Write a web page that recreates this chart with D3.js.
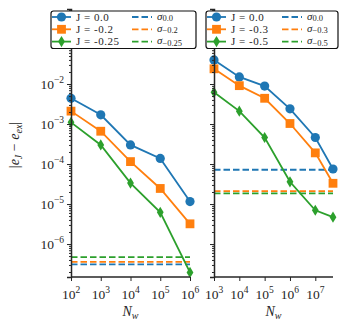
<!DOCTYPE html>
<html>
<head>
<meta charset="utf-8">
<script src="https://cdn.jsdelivr.net/npm/d3@7"></script>
<style>
body{margin:0;background:#fff;}
text{font-family:"Liberation Serif","Times New Roman",serif;fill:#262626;}
</style>
</head>
<body>
<script>
// data
var nwLeft=[1e2,1e3,1e4,1e5,1e6];
var nwRight=[1e3,1e4,1e5,1e6,1e7,5e7];

var jLeft=["0.0","-0.2","-0.25"];
var jRight=["0.0","-0.3","-0.5"];

var errLeft0=[4.4e-3,1.7e-3,3.0e-4,1.38e-4,1.15e-5];
var errLeft1=[2.1e-3,6.6e-4,1.15e-4,2.45e-5,3.2e-6];
var errLeft2=[1.1e-3,3.0e-4,3.35e-5,6.2e-6,1.95e-7];
var sigmaLeft=[3.1e-7,3.6e-7,4.7e-7];

var errRight0=[4.0e-2,1.5e-2,8.9e-3,2.4e-3,4.6e-4,7.5e-5];
var errRight1=[2.4e-2,9.1e-3,4.4e-3,1.03e-3,1.9e-4,3.3e-5];
var errRight2=[6.2e-3,2.1e-3,4.6e-4,3.6e-5,7.0e-6,4.7e-6];
var sigmaRight=[7.2e-5,2.1e-5,1.85e-5];

var yTicks=[1e-6,1e-5,1e-4,1e-3,1e-2];
var xTicksLeft=[1e2,1e3,1e4,1e5,1e6];
var xTicksRight=[1e3,1e4,1e5,1e6,1e7];

var colors=["#1f77b4","#ff7f0e","#2ca02c"];
var shapes=["circle","square","diamond"];

var svg=d3.select("body").append("svg")
          .attr("width",351)
          .attr("height",332);

var yScale=d3.scaleLog()
             .domain([1.5e-7,0.75])
             .range([277,9]);

var supLabel=function(sel,exp)
{
  sel.append("tspan").text("10");
  sel.append("tspan").attr("dy",-6).attr("font-size",9.5).text(exp);
};

var expOf=function(v){ var e=Math.round(Math.log10(v)); return (e<0?"\u2212":"")+Math.abs(e); };

var marker=function(g,shape,x,y,c)
{
  if(shape=="circle")
    g.append("circle").attr("cx",x).attr("cy",y).attr("r",4.6).attr("fill",c);
  else if(shape=="square")
    g.append("rect").attr("x",x-4.4).attr("y",y-4.4).attr("width",8.8).attr("height",8.8).attr("fill",c);
  else
    g.append("path").attr("d","M"+x+","+(y-5.6)+"L"+(x+3.4)+","+y+"L"+x+","+(y+5.6)+"L"+(x-3.4)+","+y+"Z").attr("fill",c);
};

var drawPanel=function(x0,x1,xDomain,nw,series,sigma,xTicks,labels,showY,leg)
{
  var xScale=d3.scaleLog().domain(xDomain).range([x0,x1]);
  var plot=svg.append("g").classed("plot",true);

  //sigma lines
  sigma.forEach(function(s,i){
    plot.append("line")
        .attr("x1",x0).attr("x2",x1)
        .attr("y1",yScale(s)).attr("y2",yScale(s))
        .attr("stroke",colors[i]).attr("stroke-width",1.8)
        .attr("stroke-dasharray","6.5,3");
  });

  var line=d3.line()
             .x(function(d){return xScale(d[0]);})
             .y(function(d){return yScale(d[1]);});

  series.forEach(function(vals,i){
    var pts=nw.map(function(n,k){return [n,vals[k]];});
    plot.append("path")
        .attr("d",line(pts))
        .attr("fill","none")
        .attr("stroke",colors[i])
        .attr("stroke-width",1.8);
    pts.forEach(function(p){ marker(plot,shapes[i],xScale(p[0]),yScale(p[1]),colors[i]); });
  });

  //axes
  var yAxis=d3.axisLeft(yScale).tickValues(yTicks).tickFormat("").tickSizeOuter(0).tickSize(4);
  var minor=[];
  for(var e=-7;e<0;e++) for(var m=2;m<10;m++){ var v=m*Math.pow(10,e); if(v>=1.5e-7&&v<=0.75) minor.push(v); }
  var yMinor=d3.axisLeft(yScale).tickValues(minor).tickFormat("").tickSizeOuter(0).tickSize(2);
  var ga=svg.append("g").attr("transform","translate("+x0+",0)").call(yAxis);
  svg.append("g").attr("transform","translate("+x0+",0)").call(yMinor).select(".domain").remove();
  ga.selectAll("line").attr("stroke","#262626").attr("stroke-width",1);
  ga.select(".domain").attr("stroke","#262626").attr("stroke-width",1.5);
  svg.selectAll("g.tick line").attr("stroke","#262626");

  if(showY)
  {
    yTicks.forEach(function(t){
      var tx=svg.append("text").attr("x",x0-7).attr("y",yScale(t)+4.5)
                .attr("text-anchor","end").attr("font-size",13.5);
      supLabel(tx,expOf(t));
    });
  }

  var xAxis=d3.axisBottom(xScale).tickValues(xTicks).tickFormat("").tickSizeOuter(0).tickSize(4);
  var gx=svg.append("g").attr("transform","translate(0,277)").call(xAxis);
  gx.select(".domain").attr("stroke","#262626").attr("stroke-width",1.5).attr("d","M"+x0+",0H"+x1);
  gx.selectAll("line").attr("stroke","#262626");
  xTicks.forEach(function(t){
    var tx=svg.append("text").attr("x",xScale(t)).attr("y",299)
              .attr("text-anchor","middle").attr("font-size",13.5);
    supLabel(tx,expOf(t));
  });

  var nl=svg.append("text").attr("x",(x0+x1)/2).attr("y",316)
            .attr("text-anchor","middle").attr("font-size",14).attr("font-style","italic");
  nl.append("tspan").text("N");
  nl.append("tspan").attr("font-size",10).attr("dy",3).text("w");

  //the legend...
  var legend=svg.append("g").classed("legend",true);
  legend.append("rect")
        .attr("x",leg.x).attr("y",11).attr("width",leg.w).attr("height",37.5)
        .attr("rx",2.5).attr("fill","white").attr("stroke","#111").attr("stroke-width",1.2);
  labels.forEach(function(l,i){
    var yy=17+i*12.3;
    legend.append("line").attr("x1",leg.x+1).attr("x2",leg.x+20).attr("y1",yy).attr("y2",yy)
          .attr("stroke",colors[i]).attr("stroke-width",1.8);
    marker(legend,shapes[i],leg.x+10.5,yy,colors[i]);
    legend.append("text").attr("x",leg.x+25).attr("y",yy+3.7).attr("font-size",11)
          .attr("letter-spacing",0.5).text("J = "+l);
    legend.append("line").attr("x1",leg.x+leg.c).attr("x2",leg.x+leg.c+20).attr("y1",yy).attr("y2",yy)
          .attr("stroke",colors[i]).attr("stroke-width",1.8).attr("stroke-dasharray","6.5,3");
    var st=legend.append("text").attr("x",leg.x+leg.c+25).attr("y",yy+2.5).attr("font-size",11);
    st.append("tspan").attr("font-style","italic").text("\u03c3");
    st.append("tspan").attr("font-size",8.5).attr("dy",1.5).text(l.replace("-","\u2212"));
  });
};

drawPanel(71,190,[1e2,1e6],nwLeft,[errLeft0,errLeft1,errLeft2],sigmaLeft,xTicksLeft,jLeft,true,{x:51,w:145,c:81});
drawPanel(214,333,[1e3,5e7],nwRight,[errRight0,errRight1,errRight2],sigmaRight,xTicksRight,jRight,false,{x:206,w:132,c:76});

var yl=svg.append("text").attr("transform","translate(19,145) rotate(-90)")
          .attr("text-anchor","middle").attr("font-size",14);
yl.append("tspan").text("|");
yl.append("tspan").attr("font-style","italic").text("e");
yl.append("tspan").attr("font-style","italic").attr("font-size",10).attr("dy",3).text("J");
yl.append("tspan").attr("dy",-3).text(" \u2212 ");
yl.append("tspan").attr("font-style","italic").text("e");
yl.append("tspan").attr("font-style","italic").attr("font-size",10).attr("dy",3).text("ex");
yl.append("tspan").attr("dy",-3).text("|");
</script>
</body>
</html>
